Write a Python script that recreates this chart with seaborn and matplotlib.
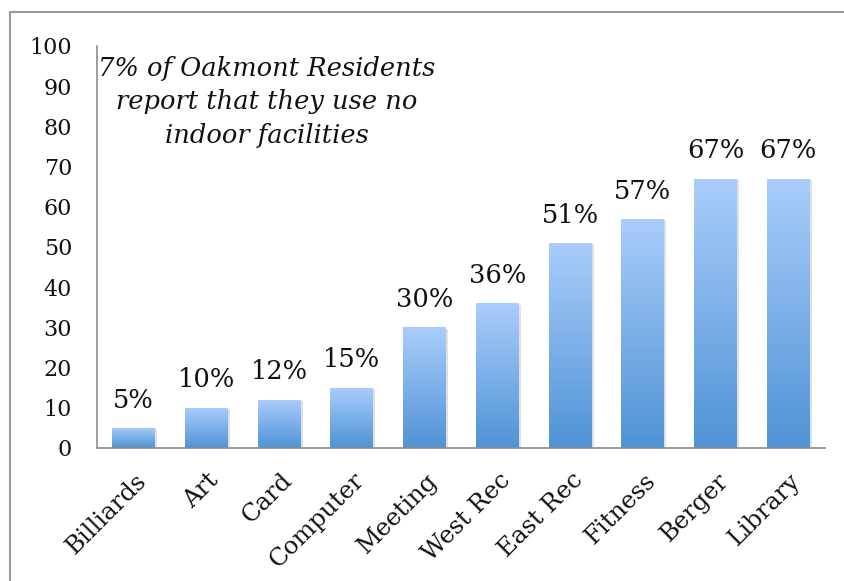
import numpy as np
import pandas as pd
import matplotlib
matplotlib.use("Agg")
import matplotlib.pyplot as plt
import matplotlib.patheffects as pe
import matplotlib.transforms as mtransforms
from matplotlib.lines import Line2D
import seaborn as sns

facilities = ["Billiards", "Art", "Card", "Computer", "Meeting",
              "West Rec", "East Rec", "Fitness", "Berger", "Library"]
usage_pct = [5, 10, 12, 15, 30, 36, 51, 57, 67, 67]
y_ticks = [0, 10, 20, 30, 40, 50, 60, 70, 80, 90, 100]
note = "7% of Oakmont Residents\nreport that they use no\nindoor facilities"

df = pd.DataFrame({"facility": facilities, "pct": usage_pct})

sns.set_style("white")
plt.rcParams["font.family"] = ["DejaVu Serif"]

fig = plt.figure(figsize=(8.45, 5.81), dpi=100)
ax = fig.add_axes([0.115, 0.229, 0.861, 0.692])

sns.barplot(data=df, x="facility", y="pct", ax=ax, width=0.59,
            color="#7aaee6", edgecolor="none")

# vertical gradient for each bar, light on top, dark at bottom
grad = np.linspace(1, 0, 256).reshape(-1, 1)
cmap = matplotlib.colors.LinearSegmentedColormap.from_list(
    "bar", ["#4f93d6", "#aacdfb"])
for p in ax.patches:
    x0, y0 = p.get_x(), p.get_y()
    w, h = p.get_width(), p.get_height()
    p.set_path_effects([pe.SimplePatchShadow(offset=(1.5, -1), shadow_rgbFace="#000000",
                                             alpha=0.12), pe.Normal()])
    im = ax.imshow(grad, extent=[x0, x0 + w, y0, y0 + h], aspect="auto",
                   cmap=cmap, vmin=0, vmax=1, zorder=p.get_zorder() + 0.1)
    im.set_clip_path(p)
    ax.text(x0 + w / 2, h + 3.8, f"{int(round(h))}%", ha="center", va="bottom",
            fontsize=18.5, color="#111111")

ax.set_xlim(-0.5, len(facilities) - 0.5)
ax.set_ylim(0, 100)
ax.set_yticks(y_ticks)
ax.tick_params(axis="y", length=0, labelsize=16, colors="#111111", pad=18)
ax.tick_params(axis="x", length=0, labelsize=17.5, colors="#111111", pad=15)
shift = mtransforms.ScaledTranslation(1 / 100, 0, fig.dpi_scale_trans)
for lbl in ax.get_xticklabels():
    lbl.set_rotation(45)
    lbl.set_ha("right")
    lbl.set_rotation_mode("anchor")
    lbl.set_transform(lbl.get_transform() + shift)
ax.set_xlabel("")
ax.set_ylabel("")

for side in ["top", "right"]:
    ax.spines[side].set_visible(False)
for side in ["left", "bottom"]:
    ax.spines[side].set_color("#8c8c8c")
    ax.spines[side].set_linewidth(1.2)

ax.text(0.233, 0.975, note, transform=ax.transAxes, ha="center", va="top",
        fontsize=18.5, style="italic", linespacing=1.42, color="#111111")

# outer chart frame
fig.add_artist(Line2D([0.0124, 0.0124], [0, 0.980], transform=fig.transFigure,
                      color="#999999", lw=1.5))
fig.add_artist(Line2D([0.0124, 1.0], [0.980, 0.980], transform=fig.transFigure,
                      color="#999999", lw=1.5))

fig.savefig("out.png", dpi=100)
